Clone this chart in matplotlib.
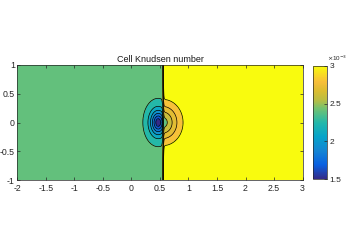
import numpy as np
import matplotlib
matplotlib.use("Agg")
import matplotlib.pyplot as plt
from matplotlib.colors import LinearSegmentedColormap, Normalize
from matplotlib.cm import ScalarMappable

plt.rcParams['font.family'] = ['Liberation Sans', 'DejaVu Sans']

# ---- data (Knudsen number, units of 1e-3) ----
x_range = [-2.0, 3.0]
y_range = [-1.0, 1.0]
shock_x = 0.555
shock_width = 0.012
upstream_kn = 2.45
downstream_kn = 3.02
# left dip: amplitude, centre x, x-scale, y-scale, exponent
dip_params = [0.93, 0.47, 0.138, 0.215, 1.6]
# right bump: amplitude, centre x, x-scale, y-scale, exponent
bump_params = [0.47, 0.555, 0.288, 0.33, 1.6]
levels = [1.5, 1.65, 1.8, 1.95, 2.1, 2.25, 2.4, 2.6, 2.7, 2.8, 2.9, 3.1]
cbar_ticks = [1.5, 2.0, 2.5, 3.0]
x_ticks = [-2, -1.5, -1, -0.5, 0, 0.5, 1, 1.5, 2, 2.5, 3]
y_ticks = [-1, -0.5, 0, 0.5, 1]

parula_pos = [0.0, 0.125, 0.25, 0.375, 0.5, 0.625, 0.7, 0.78, 0.86, 1.0]
parula_rgb = [(0.208, 0.166, 0.529), (0.036, 0.376, 0.882), (0.078, 0.522, 0.828),
              (0.024, 0.640, 0.790), (0.136, 0.720, 0.664), (0.450, 0.760, 0.440),
              (0.730, 0.740, 0.260), (0.860, 0.740, 0.190), (0.970, 0.745, 0.230),
              (0.976, 0.983, 0.054)]
cmap = LinearSegmentedColormap.from_list('parula', list(zip(parula_pos, parula_rgb)))
norm = Normalize(vmin=1.5, vmax=3.0)

# ---- field ----
xg = np.linspace(x_range[0], x_range[1], 1001)
yg = np.linspace(y_range[0], y_range[1], 401)
X, Y = np.meshgrid(xg, yg)

def blob(p):
    a, xc, sx, sy, pw = p
    r = np.sqrt(((X - xc) / sx) ** 2 + (Y / sy) ** 2)
    return a * np.exp(-r ** pw)

vL = upstream_kn - blob(dip_params)
vR = downstream_kn - blob(bump_params)
w = 0.5 * (1 + np.tanh((X - shock_x) / shock_width))
Z = (1 - w) * vL + w * vR

# ---- figure ----
fig = plt.figure(figsize=(3.49, 2.47), dpi=100)
ax = fig.add_axes([0.0496, 0.271, 0.8174, 0.466])
band_colors = [cmap(norm(l)) for l in levels[:-2]] + [cmap(norm(levels[-1]))]
ax.contourf(X, Y, Z, levels=levels, colors=band_colors)
ax.contour(X, Y, Z, levels=levels[:-1], colors='k', linewidths=0.5)
ax.set_xlim(x_range)
ax.set_ylim(y_range)
ax.set_xticks(x_ticks)
ax.set_xticklabels([f"{t:g}" for t in x_ticks])
ax.set_yticks(y_ticks)
ax.set_yticklabels([f"{t:g}" for t in y_ticks])
ax.tick_params(direction='in', length=2, width=0.5, labelsize=6.3, colors='0.15',
               top=True, right=True, pad=2.5)
ax.tick_params(axis='y', pad=1.8)
for s in ax.spines.values():
    s.set_linewidth(0.5)
    s.set_color('0.15')
ax.set_title('Cell Knudsen number', fontsize=6.5, pad=2, color='0.1')

cax = fig.add_axes([0.896, 0.275, 0.042, 0.458])
sm = ScalarMappable(norm=norm, cmap=cmap)
cb = fig.colorbar(sm, cax=cax, ticks=cbar_ticks)
cb.ax.set_yticklabels([f"{t:g}" for t in cbar_ticks])
cb.ax.tick_params(direction='in', length=2, width=0.5, labelsize=6, colors='0.15', pad=1.5)
cb.outline.set_linewidth(0.5)
cb.outline.set_edgecolor('0.15')
cax.text(1.0, 1.03, r'$\times$10$^{-3}$', transform=cax.transAxes, fontsize=4.5,
         color='0.15', ha='left', va='bottom')

fig.savefig('out.png', dpi=100)
